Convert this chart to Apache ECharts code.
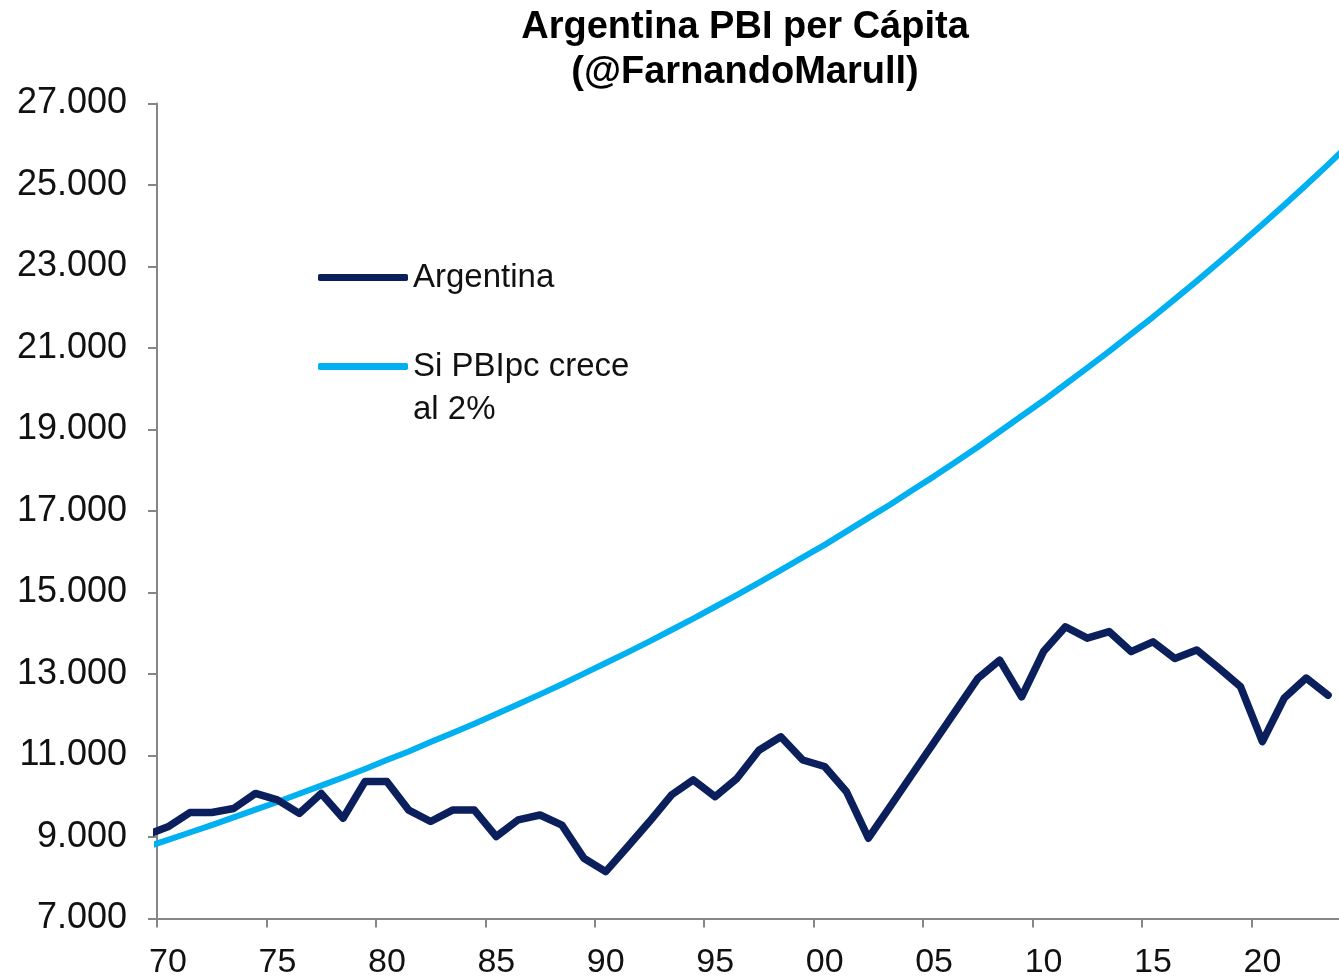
<!DOCTYPE html>
<html>
<head>
<meta charset="utf-8">
<title>Argentina PBI per Cápita</title>
<script src="https://cdn.jsdelivr.net/npm/echarts@6/dist/echarts.min.js"></script>
<style>
  html, body { margin: 0; padding: 0; background: #fff; }
  #chart { width: 1339px; height: 980px; }
</style>
</head>
<body>
<div id="chart"></div>
<script>
// años (1969 queda fuera del eje, solo entra el primer tramo de la línea)
const years = [];
for (let y = 1969; y <= 2024; y++) years.push(y);

// PBI per cápita Argentina (1969-2023)
const argentina = [
  9050, 9250, 9600, 9600, 9700, 10070, 9910, 9580, 10070, 9460,
  10360, 10360, 9660, 9380, 9660, 9660, 9010, 9420, 9540, 9290,
  8480, 8150, 8760, 9380, 10030, 10400, 9990, 10440, 11130, 11460,
  10890, 10730, 10110, 8970, 9750, 10540, 11320, 12110, 12890, 13340,
  12440, 13550, 14160, 13880, 14040, 13550, 13790, 13380, 13590, 13150,
  12690, 11340, 12410, 12900, 12480
];

// escenario "Si PBIpc crece al 2%" (1969-2024)
const crece2 = [
  8750, 8930, 9110, 9290, 9480, 9670, 9860, 10060, 10260, 10460,
  10670, 10890, 11100, 11330, 11550, 11780, 12020, 12260, 12500, 12750,
  13010, 13270, 13530, 13800, 14080, 14360, 14650, 14940, 15240, 15550,
  15860, 16170, 16500, 16830, 17160, 17510, 17850, 18210, 18570, 18950,
  19330, 19710, 20110, 20510, 20920, 21340, 21760, 22200, 22640, 23100,
  23560, 24030, 24510, 25000, 25500, 26010
];

const seriesNames = ['Argentina', 'Si PBIpc crece\nal 2%'];

// los puntos van al centro de cada año, como en el gráfico original
const toPairs = (vals) => vals.map((v, i) => [years[i] + 0.5, v]);

const fmtMiles = (v) => String(v).replace(/\B(?=(\d{3})+(?!\d))/g, '.');

const chart = echarts.init(document.getElementById('chart'));

const option = {
  animation: false,
  backgroundColor: '#ffffff',
  title: {
    text: 'Argentina PBI per Cápita\n(@FarnandoMarull)',
    left: 740,
    top: 0,
    textAlign: 'center',
    textStyle: {
      fontFamily: 'Liberation Sans, Arial, sans-serif',
      fontWeight: 'bold',
      fontSize: 38,
      lineHeight: 45,
      color: '#000'
    }
  },
  legend: {
    orient: 'vertical',
    left: 318,
    top: 256,
    padding: 0,
    itemGap: 3,
    itemWidth: 90,
    itemHeight: 7,
    icon: 'roundRect',
    selectedMode: false,
    // la 2a entrada tiene dos líneas: una línea vacía arriba deja el icono a la altura de la 1a
    formatter: (name) => (name === seriesNames[1] ? '\u00a0\n' + name : name),
    textStyle: {
      fontFamily: 'Liberation Sans, Arial, sans-serif',
      fontSize: 33,
      lineHeight: 43,
      color: '#111'
    },
    data: seriesNames
  },
  grid: {
    left: 157,
    right: -10,
    top: 103.5,
    bottom: 61.5,
    containLabel: false
  },
  xAxis: {
    type: 'value',
    min: 1970,
    max: 2024,
    interval: 5,
    axisLine: { lineStyle: { color: '#868686', width: 2 } },
    axisTick: { length: 9, lineStyle: { color: '#868686', width: 2 } },
    splitLine: { show: false },
    axisLabel: {
      margin: 27,
      fontFamily: 'Liberation Sans, Arial, sans-serif',
      fontSize: 34,
      color: '#111',
      align: 'center',
      padding: [0, 0, 0, 22],
      showMaxLabel: false,
      formatter: (v) => (v % 5 === 0 ? String(v % 100).padStart(2, '0') : '')
    }
  },
  yAxis: {
    type: 'value',
    min: 7000,
    max: 27000,
    interval: 2000,
    axisLine: { show: true, lineStyle: { color: '#868686', width: 2 } },
    axisTick: { show: true, length: 9, lineStyle: { color: '#868686', width: 2 } },
    splitLine: { show: false },
    axisLabel: {
      margin: 30,
      fontFamily: 'Liberation Sans, Arial, sans-serif',
      fontSize: 36,
      color: '#111',
      formatter: fmtMiles
    }
  },
  series: [
    {
      name: seriesNames[0],
      type: 'line',
      data: toPairs(argentina),
      showSymbol: false,
      symbol: 'none',
      clip: true,
      z: 3,
      itemStyle: { color: '#0a1f5c' },
      lineStyle: { color: '#0a1f5c', width: 7.5, join: 'round', cap: 'round' }
    },
    {
      name: seriesNames[1],
      type: 'line',
      data: toPairs(crece2),
      showSymbol: false,
      symbol: 'none',
      clip: true,
      z: 2,
      itemStyle: { color: '#00B0F0' },
      lineStyle: { color: '#00B0F0', width: 6, join: 'round', cap: 'round' }
    }
  ]
};

chart.setOption(option);
</script>
</body>
</html>
